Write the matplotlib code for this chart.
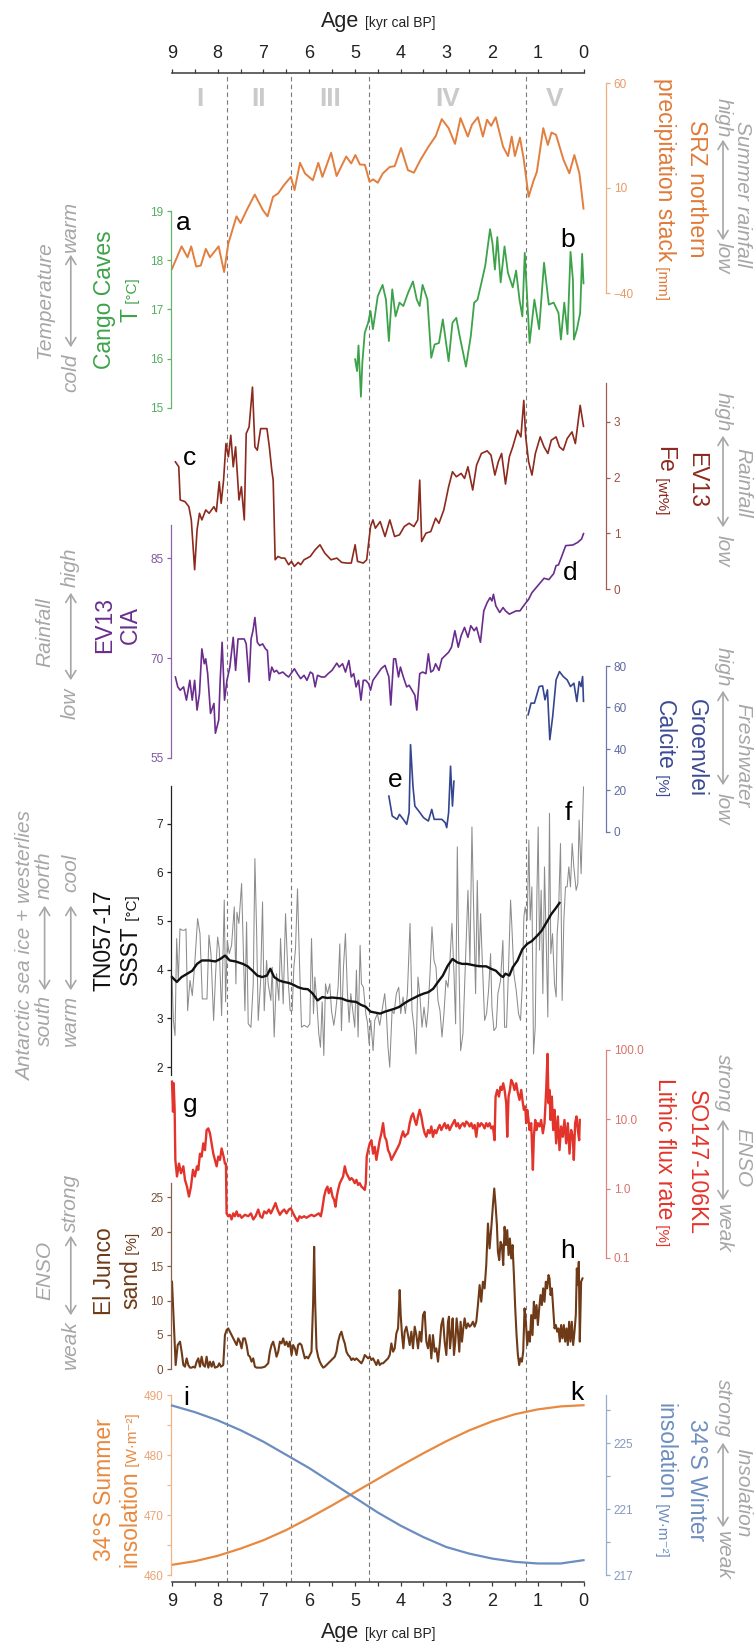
import numpy as np
import matplotlib
matplotlib.use('Agg')
import matplotlib.pyplot as plt
from matplotlib.patches import FancyArrowPatch
from matplotlib.ticker import NullLocator

plt.rcParams['font.family'] = ['Liberation Sans', 'DejaVu Sans']

# ------------------------------------------------------------------ data
srz = [(9.0, -28.5), (8.79, -17.8), (8.66, -23.0), (8.58, -17.8), (8.47, -27.4), (8.37, -26.9),
       (8.26, -19.0), (8.17, -23.0), (7.98, -17.8), (7.86, -30.0), (7.77, -16.6), (7.59, -3.5),
       (7.5, -6.7), (7.36, -0.3), (7.19, 6.9), (7.01, -0.6), (6.91, -3.5), (6.79, 5.8), (6.68, 7.4),
       (6.55, 11.4), (6.4, 15.3), (6.32, 9.0), (6.2, 22.0), (6.09, 16.9), (5.92, 13.7), (5.8, 22.0),
       (5.71, 15.3), (5.52, 26.8), (5.4, 15.7), (5.19, 25.0), (5.08, 21.7), (4.99, 25.7), (4.89, 21.2),
       (4.78, 21.0), (4.68, 13.0), (4.6, 14.1), (4.5, 12.5), (4.39, 16.9), (4.24, 20.0), (4.13, 20.4),
       (3.99, 29.0), (3.84, 18.5), (3.71, 17.3), (3.56, 23.6), (3.39, 29.7), (3.23, 34.8), (3.1, 42.8),
       (2.95, 38.5), (2.81, 31.0), (2.69, 43.3), (2.53, 34.5), (2.44, 40.1), (2.31, 43.7), (2.2, 34.5),
       (2.11, 42.5), (2.02, 39.6), (1.92, 43.7), (1.76, 29.7), (1.65, 25.2), (1.57, 34.5), (1.5, 25.2),
       (1.39, 34.0), (1.31, 24.1), (1.2, 5.8), (1.1, 13.0), (1.02, 17.7), (0.88, 38.5), (0.78, 30.5),
       (0.7, 36.4), (0.6, 35.3), (0.44, 23.6), (0.31, 17.0), (0.2, 25.7), (0.09, 17.0), (0.0, 0.2)]

cango = [(4.995, 15.99), (4.953, 15.75), (4.921, 16.27), (4.868, 15.23), (4.837, 15.92), (4.784, 16.53),
         (4.71, 16.73), (4.658, 16.97), (4.605, 16.6), (4.5, 17.27), (4.394, 17.5), (4.32, 17.2),
         (4.257, 16.36), (4.183, 17.41), (4.11, 16.86), (4.025, 17.14), (3.941, 17.07), (3.836, 17.34),
         (3.73, 17.57), (3.646, 17.2), (3.583, 17.07), (3.52, 17.5), (3.414, 17.2), (3.33, 16.02),
         (3.256, 16.29), (3.161, 16.32), (3.077, 16.8), (2.95, 15.95), (2.866, 16.73), (2.782, 16.83),
         (2.708, 16.46), (2.571, 15.84), (2.465, 16.46), (2.391, 17.14), (2.318, 17.2), (2.233, 17.54),
         (2.149, 17.89), (2.044, 18.63), (1.991, 18.35), (1.938, 17.81), (1.885, 18.47), (1.812, 17.55),
         (1.727, 18.28), (1.654, 17.75), (1.548, 17.45), (1.474, 17.79), (1.40, 17.2), (1.337, 16.86),
         (1.285, 18.15), (1.179, 16.32), (1.074, 17.2), (0.97, 16.6), (0.863, 17.95), (0.758, 17.1),
         (0.652, 17.14), (0.547, 16.93), (0.494, 16.39), (0.42, 17.14), (0.35, 16.5), (0.284, 18.17),
         (0.231, 17.6), (0.21, 16.39), (0.146, 16.59), (0.073, 16.93), (0.03, 18.13), (0.0, 17.53)]

fe = [(8.926, 2.284), (8.852, 2.195), (8.821, 1.599), (8.715, 1.569), (8.631, 1.479), (8.578, 1.241),
      (8.505, 0.347), (8.452, 1.062), (8.399, 1.36), (8.347, 1.241), (8.262, 1.42), (8.188, 1.36),
      (8.083, 1.479), (8.03, 1.39), (7.967, 1.927), (7.925, 1.539), (7.872, 1.956), (7.82, 2.612),
      (7.767, 2.374), (7.714, 2.761), (7.661, 2.195), (7.609, 2.553), (7.535, 1.599), (7.482, 1.837),
      (7.419, 1.241), (7.377, 2.791), (7.314, 2.911), (7.24, 3.626), (7.187, 2.553), (7.134, 2.493),
      (7.061, 2.881), (6.924, 2.881), (6.871, 2.553), (6.818, 2.135), (6.787, 1.956), (6.744, 0.525),
      (6.681, 0.585), (6.607, 0.555), (6.534, 0.555), (6.449, 0.436), (6.386, 0.496), (6.323, 0.406),
      (6.239, 0.478), (6.186, 0.436), (6.112, 0.525), (5.975, 0.585), (5.87, 0.704), (5.764, 0.794),
      (5.659, 0.645), (5.522, 0.525), (5.395, 0.555), (5.29, 0.478), (5.185, 0.466), (5.079, 0.466),
      (4.995, 0.794), (4.942, 0.496), (4.816, 0.466), (4.742, 0.525), (4.658, 1.122), (4.605, 1.241),
      (4.552, 1.092), (4.447, 1.211), (4.341, 0.943), (4.236, 1.241), (4.131, 0.943), (4.025, 0.973),
      (3.92, 1.122), (3.814, 1.181), (3.709, 1.122), (3.625, 1.241), (3.582, 1.956), (3.54, 0.853),
      (3.446, 1.002), (3.34, 1.032), (3.235, 1.271), (3.161, 1.181), (3.055, 1.42), (2.95, 1.837),
      (2.866, 2.106), (2.781, 2.016), (2.676, 2.076), (2.602, 1.986), (2.528, 2.195), (2.423, 1.778),
      (2.339, 2.225), (2.233, 2.434), (2.107, 2.481), (2.023, 2.404), (1.938, 2.046), (1.864, 2.284),
      (1.791, 2.434), (1.706, 1.885), (1.622, 2.374), (1.548, 2.553), (1.443, 2.851), (1.369, 2.732),
      (1.306, 3.388), (1.264, 2.732), (1.2, 2.284), (1.127, 2.046), (1.053, 2.434), (0.947, 2.732),
      (0.863, 2.553), (0.779, 2.434), (0.705, 2.672), (0.6, 2.732), (0.526, 2.553), (0.442, 2.493),
      (0.357, 2.702), (0.252, 2.821), (0.178, 2.612), (0.073, 3.298), (0.0, 2.922)]

cia = [(8.926, 67.17), (8.874, 65.68), (8.821, 65.18), (8.747, 65.68), (8.684, 63.69), (8.61, 66.67),
       (8.557, 63.69), (8.505, 66.67), (8.452, 62.2), (8.399, 64.68), (8.347, 71.39), (8.294, 69.16),
       (8.262, 69.9), (8.22, 67.67), (8.157, 61.7), (8.083, 63.19), (8.051, 58.72), (7.978, 60.71),
       (7.946, 66.67), (7.904, 72.38), (7.851, 63.69), (7.798, 66.67), (7.735, 68.66), (7.661, 73.13),
       (7.609, 68.16), (7.556, 72.88), (7.419, 72.88), (7.377, 72.14), (7.314, 66.42), (7.271, 72.88),
       (7.229, 74.12), (7.187, 76.11), (7.134, 72.38), (7.082, 71.89), (7.018, 72.14), (6.955, 71.39),
       (6.913, 71.14), (6.871, 66.67), (6.818, 68.66), (6.766, 67.91), (6.713, 68.16), (6.66, 67.67),
       (6.576, 67.91), (6.502, 67.42), (6.449, 67.17), (6.397, 67.67), (6.323, 68.41), (6.26, 67.67),
       (6.186, 66.92), (6.112, 67.42), (6.049, 66.67), (5.975, 67.91), (5.922, 67.67), (5.87, 65.68),
       (5.817, 67.42), (5.733, 67.17), (5.659, 67.17), (5.585, 67.67), (5.501, 68.16), (5.395, 69.25),
       (5.343, 68.66), (5.269, 69.16), (5.206, 67.91), (5.132, 69.65), (5.079, 67.17), (5.026, 67.67),
       (4.974, 65.68), (4.921, 66.67), (4.868, 63.69), (4.816, 66.67), (4.763, 66.67), (4.7, 66.17),
       (4.658, 65.18), (4.605, 66.67), (4.552, 67.17), (4.5, 67.67), (4.426, 68.41), (4.341, 68.91),
       (4.257, 67.17), (4.215, 62.95), (4.152, 69.9), (4.11, 69.9), (4.046, 67.17), (4.004, 68.66),
       (3.941, 67.17), (3.867, 65.68), (3.814, 65.93), (3.751, 65.18), (3.688, 64.44), (3.646, 62.2),
       (3.582, 67.67), (3.519, 67.91), (3.446, 67.67), (3.393, 70.65), (3.34, 67.91), (3.287, 68.16),
       (3.235, 69.16), (3.161, 68.16), (3.098, 69.9), (3.024, 70.4), (2.95, 70.89), (2.887, 71.64),
       (2.813, 74.12), (2.739, 71.64), (2.676, 73.38), (2.602, 74.62), (2.528, 73.13), (2.465, 74.87),
       (2.391, 74.12), (2.339, 74.62), (2.254, 72.38), (2.181, 77.1), (2.107, 78.35), (2.044, 79.09),
       (2.002, 78.59), (1.97, 79.59), (1.917, 77.85), (1.833, 76.86), (1.759, 77.6), (1.706, 77.1),
       (1.622, 76.61), (1.548, 76.86), (1.474, 77.1), (1.39, 77.1), (1.285, 78.1), (1.2, 78.84),
       (1.127, 79.84), (1.021, 80.7), (0.863, 82.0), (0.758, 81.8), (0.652, 82.7), (0.6, 83.9),
       (0.547, 84.0), (0.389, 86.9), (0.231, 87.0), (0.125, 87.4), (0.042, 87.9), (0.0, 88.7)]

groen_young = [(1.211, 56.5), (1.148, 62.1), (1.074, 62.1), (1.021, 66.1), (0.969, 70.1), (0.895, 70.4),
               (0.842, 63.7), (0.789, 68.5), (0.737, 44.5), (0.674, 55.7), (0.6, 73.3), (0.526, 77.3),
               (0.442, 74.9), (0.357, 73.3), (0.284, 70.1), (0.21, 71.7), (0.146, 62.9), (0.094, 72.5),
               (0.052, 70.1), (0.02, 74.9), (0.0, 63.0)]
groen_old = [(4.257, 17.3), (4.183, 7.7), (4.131, 6.9), (4.078, 6.1), (4.025, 8.5), (3.941, 6.1),
             (3.867, 3.7), (3.814, 9.3), (3.783, 42.1), (3.73, 22.1), (3.688, 12.5), (3.604, 10.1),
             (3.498, 6.9), (3.393, 5.3), (3.319, 10.9), (3.266, 6.1), (3.182, 6.1), (3.098, 6.1),
             (3.024, 4.5), (2.992, 2.1), (2.95, 9.3), (2.908, 31.7), (2.866, 12.5), (2.834, 24.5)]

ssst = [(9.0, 3.85), (8.97, 2.96), (8.934, 2.65), (8.898, 4.64), (8.862, 3.78), (8.825, 4.84),
        (8.774, 4.81), (8.731, 4.81), (8.694, 4.84), (8.658, 3.16), (8.607, 3.78), (8.556, 3.47),
        (8.498, 4.19), (8.44, 5.05), (8.388, 4.74), (8.337, 3.40), (8.279, 3.40), (8.235, 3.40),
        (8.192, 4.71), (8.148, 4.33), (8.09, 2.96), (8.046, 3.92), (8.002, 4.67), (7.966, 4.43),
        (7.915, 3.06), (7.857, 5.43), (7.828, 3.34), (7.791, 4.60), (7.748, 4.33), (7.697, 4.50),
        (7.638, 5.29), (7.602, 3.71), (7.58, 5.18), (7.537, 4.95), (7.478, 5.77), (7.442, 4.47),
        (7.405, 3.16), (7.369, 4.98), (7.333, 2.89), (7.274, 2.82), (7.223, 3.71), (7.187, 6.28),
        (7.15, 4.81), (7.114, 2.96), (7.063, 3.75), (7.02, 5.39), (6.983, 3.16), (6.932, 4.19),
        (6.896, 3.71), (6.838, 3.37), (6.808, 4.05), (6.765, 2.62), (6.714, 3.92), (6.663, 3.37),
        (6.626, 4.64), (6.568, 3.30), (6.517, 5.15), (6.459, 3.78), (6.415, 3.16), (6.372, 3.16),
        (6.335, 4.05), (6.299, 4.43), (6.255, 5.66), (6.211, 4.12), (6.168, 2.82), (6.109, 2.86),
        (6.037, 2.82), (5.986, 2.89), (5.949, 4.64), (5.905, 3.10), (5.876, 3.85), (5.84, 3.44),
        (5.789, 2.68), (5.753, 2.41), (5.716, 3.34), (5.68, 2.24), (5.643, 3.71), (5.6, 3.51),
        (5.549, 3.71), (5.512, 3.16), (5.461, 2.86), (5.425, 3.10), (5.367, 3.64), (5.33, 4.53),
        (5.294, 2.75), (5.25, 4.05), (5.207, 4.74), (5.163, 3.51), (5.126, 2.92), (5.09, 3.51),
        (5.046, 3.16), (5.003, 2.82), (4.966, 3.99), (4.93, 2.62), (4.886, 4.50), (4.857, 3.71),
        (4.813, 3.64), (4.762, 3.10), (4.726, 2.92), (4.69, 2.48), (4.653, 2.96), (4.602, 2.34),
        (4.566, 2.96), (4.508, 3.10), (4.457, 2.86), (4.406, 3.16), (4.348, 3.51), (4.311, 3.10),
        (4.275, 2.41), (4.238, 2.00), (4.187, 3.16), (4.144, 3.10), (4.093, 3.51), (4.042, 3.64),
        (3.998, 3.10), (3.947, 3.44), (3.896, 3.10), (3.852, 3.51), (3.794, 4.95), (3.751, 3.16),
        (3.707, 2.82), (3.663, 2.27), (3.62, 3.85), (3.576, 3.44), (3.532, 2.82), (3.488, 3.23),
        (3.437, 2.82), (3.401, 3.16), (3.357, 3.92), (3.314, 4.88), (3.27, 4.19), (3.226, 4.05),
        (3.183, 3.37), (3.139, 3.16), (3.095, 2.62), (3.052, 3.10), (3.008, 3.78), (2.964, 3.64),
        (2.921, 4.19), (2.877, 4.95), (2.833, 3.92), (2.797, 2.89), (2.76, 6.52), (2.731, 4.47),
        (2.688, 2.34), (2.637, 2.68), (2.586, 4.05), (2.527, 5.63), (2.484, 4.12), (2.44, 6.93),
        (2.396, 4.95), (2.36, 3.51), (2.323, 5.83), (2.287, 4.05), (2.251, 5.15), (2.214, 4.19),
        (2.163, 2.96), (2.12, 3.10), (2.076, 3.58), (2.032, 4.33), (2.003, 3.23), (1.959, 2.75),
        (1.908, 2.82), (1.872, 3.51), (1.814, 3.78), (1.763, 4.60), (1.726, 2.82), (1.683, 2.82),
        (1.639, 4.05), (1.595, 5.43), (1.566, 4.88), (1.523, 3.92), (1.472, 3.58), (1.421, 3.10),
        (1.377, 2.96), (1.341, 3.64), (1.304, 5.08), (1.275, 5.29), (1.231, 5.02), (1.195, 6.66),
        (1.166, 5.02), (1.129, 5.70), (1.093, 2.27), (1.056, 2.82), (1.02, 5.49), (0.991, 6.93),
        (0.962, 4.40), (0.926, 5.63), (0.889, 3.51), (0.853, 6.11), (0.816, 4.60), (0.78, 3.03),
        (0.744, 7.21), (0.715, 4.33), (0.678, 4.74), (0.634, 3.71), (0.598, 3.44), (0.576, 4.74),
        (0.547, 5.15), (0.503, 6.59), (0.467, 3.37), (0.43, 5.02), (0.394, 5.70), (0.358, 5.70),
        (0.321, 6.11), (0.285, 5.70), (0.248, 6.59), (0.212, 6.11), (0.161, 5.63), (0.125, 5.77),
        (0.096, 7.07), (0.052, 5.97), (0.0, 7.75)]

ssst_smooth = [(9.0, 3.85), (8.895, 3.75), (8.789, 3.85), (8.663, 3.92), (8.557, 3.98), (8.452, 4.12),
               (8.347, 4.19), (8.188, 4.19), (8.051, 4.17), (7.946, 4.22), (7.841, 4.29), (7.735, 4.19),
               (7.609, 4.17), (7.451, 4.12), (7.345, 4.07), (7.24, 3.98), (7.134, 3.88), (7.029, 3.85),
               (6.924, 3.88), (6.85, 4.02), (6.766, 3.85), (6.66, 3.78), (6.555, 3.75), (6.449, 3.73),
               (6.344, 3.69), (6.239, 3.64), (6.133, 3.61), (6.028, 3.60), (5.922, 3.51), (5.817, 3.37),
               (5.711, 3.44), (5.606, 3.42), (5.501, 3.43), (5.395, 3.42), (5.29, 3.41), (5.185, 3.37),
               (5.079, 3.35), (4.974, 3.34), (4.868, 3.28), (4.763, 3.24), (4.658, 3.14), (4.552, 3.12),
               (4.447, 3.10), (4.341, 3.14), (4.236, 3.17), (4.131, 3.20), (4.025, 3.24), (3.92, 3.31),
               (3.814, 3.37), (3.709, 3.42), (3.604, 3.47), (3.498, 3.51), (3.393, 3.54), (3.287, 3.61),
               (3.182, 3.75), (3.077, 3.88), (2.971, 4.08), (2.866, 4.22), (2.76, 4.15), (2.655, 4.12),
               (2.55, 4.12), (2.444, 4.10), (2.339, 4.08), (2.233, 4.07), (2.128, 4.07), (2.023, 4.02),
               (1.917, 3.98), (1.812, 3.88), (1.759, 3.85), (1.706, 3.92), (1.622, 3.88), (1.548, 4.05),
               (1.443, 4.19), (1.337, 4.42), (1.232, 4.53), (1.127, 4.59), (1.021, 4.69), (0.916, 4.80),
               (0.81, 4.97), (0.705, 5.14), (0.6, 5.27), (0.526, 5.37)]

lithic = [(9.0, 35.0), (8.978, 12.9), (8.963, 33.1), (8.942, 13.7), (8.927, 2.6), (8.891, 1.50),
          (8.847, 2.3), (8.803, 1.67), (8.752, 2.1), (8.716, 1.34), (8.672, 1.07), (8.629, 0.77),
          (8.585, 1.07), (8.541, 1.87), (8.498, 1.50), (8.454, 2.1), (8.425, 1.87), (8.388, 3.2),
          (8.352, 2.9), (8.316, 4.5), (8.279, 3.6), (8.243, 7.0), (8.206, 7.4), (8.17, 6.3),
          (8.133, 4.5), (8.097, 3.2), (8.061, 2.6), (8.024, 2.1), (7.988, 2.9), (7.951, 2.6),
          (7.915, 3.8), (7.871, 2.9), (7.842, 2.3), (7.82, 2.3), (7.806, 0.44), (7.77, 0.40),
          (7.733, 0.42), (7.697, 0.36), (7.66, 0.44), (7.624, 0.40), (7.587, 0.47), (7.551, 0.40),
          (7.515, 0.42), (7.478, 0.38), (7.405, 0.42), (7.333, 0.40), (7.274, 0.44), (7.223, 0.36),
          (7.172, 0.40), (7.114, 0.50), (7.07, 0.40), (7.027, 0.38), (6.983, 0.47), (6.932, 0.44),
          (6.881, 0.50), (6.838, 0.44), (6.786, 0.52), (6.736, 0.62), (6.692, 0.50), (6.641, 0.42),
          (6.59, 0.47), (6.546, 0.50), (6.495, 0.44), (6.444, 0.50), (6.401, 0.52), (6.35, 0.44),
          (6.299, 0.38), (6.255, 0.34), (6.211, 0.40), (6.168, 0.38), (6.109, 0.40), (6.058, 0.38),
          (6.007, 0.40), (5.949, 0.42), (5.891, 0.40), (5.84, 0.42), (5.789, 0.44), (5.745, 0.40),
          (5.716, 0.50), (5.673, 0.77), (5.636, 0.96), (5.6, 1.07), (5.571, 0.86), (5.527, 1.02),
          (5.49, 0.77), (5.454, 0.69), (5.425, 0.55), (5.396, 0.77), (5.367, 0.96), (5.33, 1.20),
          (5.294, 1.34), (5.258, 1.50), (5.221, 2.1), (5.185, 1.67), (5.148, 1.50), (5.112, 1.34),
          (5.076, 1.42), (5.039, 1.34), (5.003, 1.20), (4.966, 1.34), (4.93, 1.13), (4.894, 1.20),
          (4.857, 1.07), (4.821, 1.02), (4.784, 0.96), (4.762, 1.20), (4.741, 2.9), (4.711, 3.6),
          (4.675, 4.5), (4.639, 5.0), (4.602, 3.2), (4.566, 4.0), (4.53, 2.6), (4.493, 3.6),
          (4.457, 5.0), (4.42, 6.3), (4.384, 8.8), (4.347, 5.6), (4.311, 5.0), (4.275, 3.6),
          (4.238, 3.2), (4.202, 2.6), (4.165, 2.9), (4.129, 3.2), (4.093, 3.6), (4.056, 4.0),
          (4.02, 4.5), (3.983, 5.6), (3.947, 6.7), (3.911, 5.6), (3.874, 6.0), (3.838, 6.3),
          (3.801, 8.8), (3.765, 11.0), (3.729, 12.2), (3.692, 9.8), (3.656, 8.3), (3.619, 11.0),
          (3.583, 13.7), (3.547, 11.0), (3.51, 7.9), (3.474, 6.3), (3.437, 5.6), (3.401, 7.0),
          (3.364, 6.3), (3.328, 7.9), (3.292, 5.6), (3.255, 7.0), (3.219, 6.3), (3.182, 7.4),
          (3.146, 8.3), (3.11, 7.0), (3.073, 7.9), (3.037, 8.8), (3.0, 7.4), (2.964, 8.3),
          (2.928, 7.0), (2.891, 7.9), (2.855, 8.8), (2.818, 9.8), (2.782, 7.9), (2.746, 8.8),
          (2.709, 7.4), (2.673, 8.3), (2.636, 8.8), (2.6, 7.9), (2.564, 9.3), (2.527, 8.8),
          (2.491, 7.9), (2.454, 8.8), (2.418, 7.4), (2.382, 8.3), (2.345, 5.6), (2.309, 8.8),
          (2.272, 7.9), (2.236, 8.8), (2.2, 8.3), (2.163, 7.4), (2.127, 8.8), (2.09, 7.9),
          (2.054, 8.8), (2.018, 7.4), (1.981, 7.9), (1.945, 5.0), (1.923, 21.3), (1.887, 26.5),
          (1.85, 21.3), (1.814, 29.6), (1.785, 26.5), (1.756, 33.1), (1.726, 26.5), (1.69, 17.1),
          (1.668, 5.6), (1.639, 21.3), (1.61, 26.5), (1.581, 37.0), (1.544, 33.1), (1.508, 26.5),
          (1.472, 33.1), (1.435, 23.8), (1.399, 19.1), (1.362, 26.5), (1.326, 17.1), (1.304, 13.7),
          (1.275, 15.3), (1.253, 8.8), (1.231, 13.7), (1.202, 9.8), (1.18, 7.0), (1.144, 8.8),
          (1.107, 1.87), (1.086, 5.6), (1.056, 9.8), (1.027, 7.0), (0.998, 8.8), (0.962, 7.9),
          (0.926, 9.8), (0.889, 6.3), (0.853, 8.8), (0.816, 26.5), (0.787, 88.0), (0.765, 17.1),
          (0.743, 26.5), (0.721, 9.8), (0.692, 21.3), (0.663, 7.0), (0.634, 13.7), (0.598, 4.5),
          (0.561, 11.0), (0.525, 3.6), (0.489, 7.9), (0.452, 5.6), (0.416, 9.8), (0.379, 4.5),
          (0.343, 8.8), (0.306, 3.2), (0.27, 7.0), (0.234, 5.6), (0.212, 2.6), (0.183, 8.8),
          (0.154, 11.0), (0.124, 7.0), (0.095, 5.0), (0.081, 9.8)]

junco = [(9.0, 12.74), (8.949, 4.98), (8.92, 0.62), (8.876, 3.53), (8.825, 4.02), (8.789, 2.56),
         (8.752, 0.62), (8.716, 0.38), (8.68, 1.59), (8.643, 0.62), (8.607, 0.24), (8.57, 0.24),
         (8.534, 0.38), (8.498, 0.24), (8.461, 1.11), (8.425, 1.59), (8.388, 0.38), (8.352, 1.83),
         (8.316, 0.62), (8.279, 0.38), (8.243, 1.83), (8.206, 0.24), (8.17, 1.11), (8.133, 0.38),
         (8.097, 1.11), (8.061, 0.24), (8.002, 0.38), (7.966, 0.87), (7.93, 0.38), (7.879, 0.62),
         (7.842, 4.98), (7.806, 5.71), (7.77, 5.95), (7.733, 5.47), (7.697, 4.98), (7.66, 4.5),
         (7.624, 4.02), (7.587, 3.53), (7.551, 4.5), (7.515, 4.02), (7.478, 3.05), (7.442, 4.5),
         (7.405, 4.5), (7.369, 3.53), (7.333, 2.08), (7.296, 1.83), (7.26, 1.11), (7.223, 1.59),
         (7.187, 0.38), (7.15, 0.24), (7.114, 0.24), (7.041, 0.24), (6.969, 0.38), (6.896, 0.87),
         (6.859, 2.56), (6.823, 3.53), (6.787, 4.02), (6.75, 3.05), (6.714, 1.83), (6.677, 2.56),
         (6.641, 4.02), (6.604, 3.77), (6.568, 4.5), (6.532, 3.53), (6.495, 4.02), (6.459, 3.29),
         (6.423, 4.02), (6.386, 2.08), (6.35, 3.53), (6.313, 3.05), (6.277, 2.08), (6.241, 3.53),
         (6.204, 3.77), (6.168, 3.53), (6.131, 2.56), (6.095, 1.59), (6.058, 1.83), (6.022, 1.59),
         (5.986, 2.08), (5.949, 2.56), (5.913, 9.83), (5.891, 17.82), (5.869, 9.83), (5.84, 3.05),
         (5.804, 1.83), (5.767, 1.11), (5.731, 0.62), (5.694, 0.24), (5.658, 0.38), (5.622, 0.62),
         (5.585, 0.87), (5.549, 1.11), (5.512, 1.35), (5.476, 1.59), (5.44, 1.83), (5.403, 2.56),
         (5.367, 4.02), (5.33, 4.98), (5.294, 5.47), (5.258, 4.5), (5.221, 3.77), (5.185, 2.56),
         (5.148, 2.08), (5.112, 1.83), (5.076, 1.35), (5.039, 1.59), (5.003, 1.35), (4.966, 1.59),
         (4.93, 1.35), (4.894, 1.11), (4.857, 0.87), (4.821, 1.35), (4.784, 2.08), (4.748, 1.83),
         (4.711, 1.59), (4.675, 1.83), (4.639, 1.35), (4.602, 1.59), (4.566, 1.11), (4.53, 0.62),
         (4.493, 1.35), (4.457, 0.62), (4.42, 0.87), (4.384, 0.87), (4.347, 1.11), (4.311, 1.35),
         (4.275, 1.59), (4.238, 2.08), (4.202, 3.77), (4.165, 2.56), (4.129, 3.05), (4.093, 5.23),
         (4.056, 5.95), (4.02, 11.53), (3.998, 7.89), (3.969, 4.98), (3.94, 3.05), (3.911, 5.47),
         (3.874, 6.2), (3.838, 4.98), (3.801, 3.53), (3.765, 5.47), (3.729, 3.05), (3.692, 6.2),
         (3.656, 4.98), (3.619, 3.05), (3.583, 5.47), (3.547, 4.02), (3.51, 7.89), (3.474, 8.38),
         (3.437, 4.02), (3.401, 3.05), (3.364, 4.98), (3.328, 1.59), (3.292, 4.98), (3.255, 2.56),
         (3.219, 3.05), (3.182, 1.11), (3.146, 3.53), (3.11, 6.44), (3.073, 7.41), (3.037, 4.02),
         (3.0, 2.08), (2.964, 6.92), (2.942, 7.65), (2.92, 3.05), (2.891, 4.98), (2.862, 7.41),
         (2.833, 2.08), (2.804, 4.02), (2.775, 7.41), (2.746, 5.47), (2.717, 2.56), (2.688, 6.92),
         (2.658, 4.02), (2.629, 5.95), (2.6, 7.41), (2.564, 5.95), (2.527, 6.68), (2.491, 6.2),
         (2.454, 6.44), (2.418, 6.92), (2.382, 6.2), (2.345, 6.92), (2.309, 9.34), (2.272, 12.25),
         (2.236, 9.83), (2.2, 12.74), (2.163, 11.77), (2.127, 15.16), (2.09, 21.21), (2.054, 17.58),
         (2.018, 20.49), (1.981, 23.88), (1.952, 26.3), (1.923, 23.88), (1.894, 20.97), (1.872, 17.1),
         (1.843, 15.88), (1.814, 18.55), (1.785, 18.07), (1.756, 15.16), (1.726, 20.73), (1.697, 18.07),
         (1.668, 20.25), (1.639, 16.61), (1.61, 19.03), (1.581, 16.13), (1.552, 18.07), (1.522, 13.71),
         (1.493, 8.86), (1.464, 4.98), (1.435, 2.08), (1.406, 0.62), (1.377, 1.59), (1.348, 1.11),
         (1.319, 2.56), (1.289, 8.86), (1.26, 6.92), (1.231, 3.53), (1.202, 5.47), (1.173, 4.02),
         (1.144, 7.89), (1.115, 4.98), (1.086, 9.83), (1.056, 7.41), (1.027, 9.34), (0.998, 6.44),
         (0.969, 8.86), (0.94, 10.8), (0.911, 9.34), (0.882, 11.77), (0.853, 9.83), (0.824, 12.74),
         (0.795, 11.77), (0.765, 13.71), (0.743, 13.22), (0.721, 10.8), (0.692, 11.77), (0.663, 8.86),
         (0.634, 5.95), (0.605, 6.44), (0.576, 5.47), (0.547, 5.95), (0.518, 4.02), (0.489, 6.44),
         (0.46, 4.5), (0.43, 6.44), (0.401, 4.02), (0.372, 5.95), (0.343, 3.53), (0.314, 6.92),
         (0.285, 4.02), (0.256, 6.92), (0.226, 3.53), (0.197, 5.47), (0.168, 7.89), (0.146, 14.67),
         (0.124, 12.25), (0.103, 15.64), (0.081, 4.02), (0.052, 12.74), (0.022, 13.22)]

insol_age = [9.0, 8.5, 8.0, 7.5, 7.0, 6.5, 6.0, 5.5, 5.0, 4.5, 4.0, 3.5, 3.0, 2.5, 2.0, 1.5, 1.0, 0.5, 0.0]
summer_insol = [461.7, 462.3, 463.2, 464.4, 465.8, 467.5, 469.5, 471.6, 473.8, 476.0, 478.2, 480.3,
                482.3, 484.1, 485.6, 486.8, 487.6, 488.1, 488.3]
winter_insol = [227.3, 226.9, 226.4, 225.8, 225.1, 224.3, 223.5, 222.6, 221.7, 220.8, 220.0, 219.3,
                218.7, 218.3, 218.0, 217.8, 217.7, 217.7, 217.9]

boundaries = [7.8, 6.4, 4.7, 1.25]
stage_labels = ['I', 'II', 'III', 'IV', 'V']
age_ticks = list(range(10))

# ------------------------------------------------------------------ layout
W, H = 755, 1642
X0, X1 = 172.0, 583.5
fig = plt.figure(figsize=(W / 100, H / 100), dpi=100)
SANS = ['Liberation Sans', 'DejaVu Sans']
GREY = '#A6A6A6'


def fx(x):
    return x / W


def fy(y):
    return 1 - y / H


def age_x(a):
    return X0 + (9 - a) / 9 * (X1 - X0)


# background axes: age axes top & bottom + dashed boundaries
bg = fig.add_axes([fx(X0), fy(1582), (X1 - X0) / W, (1582 - 73) / H])
bg.set_xlim(9, 0)
bg.set_ylim(0, 1)
bg.patch.set_visible(False)
for s in ['left', 'right']:
    bg.spines[s].set_visible(False)
for s in ['top', 'bottom']:
    bg.spines[s].set_color('#3a3a3a')
    bg.spines[s].set_linewidth(1.1)
bg.set_yticks([])
bg.set_xticks(age_ticks)
bg.set_xticks(np.arange(0.5, 9, 1), minor=True)
bg.tick_params(axis='x', which='both', direction='out', length=3.2, width=0.9, color='#3a3a3a',
               top=True, bottom=True, labeltop=True, labelbottom=True, labelsize=13, pad=5,
               labelcolor='#222222')
for a in boundaries:
    bg.axvline(a, color='#7a7a7a', lw=0.8, ls=(0, (4, 3)), zorder=0)

fig.text(fx(359), fy(27.5), 'Age', fontsize=15.5, ha='right', va='baseline', color='#222222')
fig.text(fx(365), fy(27.5), '[kyr cal BP]', fontsize=10, ha='left', va='baseline', color='#222222')
fig.text(fx(359), fy(1638), 'Age', fontsize=15.5, ha='right', va='baseline', color='#222222')
fig.text(fx(365), fy(1638), '[kyr cal BP]', fontsize=10, ha='left', va='baseline', color='#222222')

edges = [9.0] + boundaries + [0.0]
for i, lab in enumerate(stage_labels):
    mid = (edges[i] + edges[i + 1]) / 2
    fig.text(fx(age_x(mid)), fy(106), lab, fontsize=19, fontweight='bold', ha='center',
             va='baseline', color='#CACACA')


def panel(y_top, y_bot, ylim, side, scol, tcol, ticks, labels=None, minor=None, log=False):
    ax = fig.add_axes([fx(X0), fy(y_bot), (X1 - X0) / W, (y_bot - y_top) / H])
    ax.set_xlim(9, 0)
    ax.patch.set_visible(False)
    for s in ['top', 'bottom', 'left', 'right']:
        ax.spines[s].set_visible(False)
    ax.set_xticks([])
    if log:
        ax.set_yscale('log')
    ax.set_ylim(*ylim)
    sp = ax.spines[side]
    sp.set_visible(True)
    sp.set_color(scol)
    sp.set_linewidth(0.9)
    if side == 'right':
        sp.set_position(('outward', (606 - X1) * 0.72))
        ax.yaxis.set_ticks_position('right')
    else:
        sp.set_position(('outward', 0.7))
        ax.yaxis.set_ticks_position('left')
    ax.set_yticks(ticks)
    if labels is not None:
        ax.set_yticklabels(labels)
    if minor is not None:
        ax.set_yticks(minor, minor=True)
    else:
        ax.yaxis.set_minor_locator(NullLocator())
    ax.tick_params(axis='y', which='both', color=scol, labelcolor=tcol, length=3.0, width=0.9,
                   pad=2.5, labelsize=8.5)
    return ax


def plot_xy(ax, pairs, **kw):
    a, v = zip(*pairs)
    ax.plot(a, v, clip_on=False, solid_joinstyle='round', **kw)


# a: SRZ
ax = panel(83, 293, (-40, 60), 'right', '#EDAE80', '#E89B66', [60, 10, -40])
plot_xy(ax, srz, color='#E27F3E', lw=1.4)
# b: Cango
ax = panel(211, 408, (15, 19), 'left', '#64B56E', '#55AD60', [15, 16, 17, 18, 19])
plot_xy(ax, cango, color='#3DA34A', lw=1.3)
# c: Fe
ax = panel(383, 589, (0, 3.7), 'right', '#A45B52', '#9A4E44', [0, 1, 2, 3])
plot_xy(ax, fe, color='#8C2A1E', lw=1.2)
# d: CIA
ax = panel(525, 758, (55, 90), 'left', '#8A63A8', '#7E57A0', [55, 70, 85])
plot_xy(ax, cia, color='#6A2D8E', lw=1.2)
# e: Groenvlei
ax = panel(666, 832, (0, 80), 'right', '#6C78AC', '#5E6BA4', [0, 20, 40, 60, 80])
plot_xy(ax, groen_young, color='#34468F', lw=1.2)
plot_xy(ax, groen_old, color='#34468F', lw=1.2)
# f: SSST
ax = panel(786, 1075, (1.84, 7.77), 'left', '#222222', '#222222', [2, 3, 4, 5, 6, 7])
plot_xy(ax, ssst, color='#8C8C8C', lw=0.75)
plot_xy(ax, ssst_smooth, color='#111111', lw=1.7)
# g: Lithic flux
ax = panel(1050, 1258, (0.1, 100), 'right', '#DD8580', '#D9736C', [0.1, 1, 10, 100],
           labels=['0.1', '1.0', '10.0', '100.0'], log=True)
plot_xy(ax, lithic, color='#E3342B', lw=1.7)
# h: El Junco
ax = panel(1183, 1369.3, (0, 27.1), 'left', '#8A6048', '#7A5038', [0, 5, 10, 15, 20, 25])
plot_xy(ax, junco, color='#6E3A17', lw=1.5)
# i/k: insolation
ax = panel(1395, 1575, (460, 490), 'left', '#EFB488', '#EBA474', [460, 470, 480, 490],
           minor=[465, 475, 485])
ax.plot(insol_age, summer_insol, color='#E8893F', lw=1.6, clip_on=False)
ax = panel(1395, 1575, (217, 227.94), 'right', '#97ABCB', '#8399BF', [217, 221, 225],
           minor=[219, 223, 227])
ax.plot(insol_age, winter_insol, color='#6B8DBF', lw=1.6, clip_on=False)

# panel letters
letters = [('a', 183, 230), ('b', 568, 247), ('c', 190, 465), ('d', 570, 580), ('e', 395, 787),
           ('f', 568, 820), ('g', 190, 1112), ('h', 568, 1258), ('i', 186, 1405), ('k', 577, 1400)]
for s, x, y in letters:
    fig.text(fx(x), fy(y), s, fontsize=19, ha='center', va='baseline', color='black',
             family=['Liberation Sans Narrow', 'Liberation Sans', 'DejaVu Sans'])

# ------------------------------------------------------------------ rotated labels
renderer = fig.canvas.get_renderer()


def rot_label(xb, yc, pieces, rot, color, style='normal'):
    objs, lens = [], []
    for s, size in pieces:
        t = fig.text(0, 0, s, fontsize=size, rotation=rot, rotation_mode='anchor', ha='left',
                     va='baseline', color=color, style=style, family=SANS)
        bb = t.get_window_extent(renderer=renderer)
        objs.append(t)
        lens.append(bb.height)
    total = sum(lens)
    Yc = H - yc
    cum = 0
    for t, L in zip(objs, lens):
        if rot == 90:
            Y = Yc - total / 2 + cum
        else:
            Y = Yc + total / 2 - cum
        t.set_position((xb / W, Y / H))
        cum += L


BIG, SMALL = 16.5, 11
left_labels = [
    (300, '#3DA34A', [('Cango Caves', BIG)], [('T', BIG), (' [°C]', SMALL)]),
    (625, '#6A2D8E', [('EV13', BIG)], [('CIA', BIG)]),
    (940, '#111111', [('TN057-17', BIG)], [('SSST', BIG), (' [°C]', SMALL)]),
    (1271, '#6E3A17', [('El Junco', BIG)], [('sand', BIG), (' [%]', SMALL)]),
    (1490, '#E8893F', [('34°S Summer', BIG)], [('insolation', BIG), (' [W·m⁻²]', SMALL)]),
]
for yc, col, l1, l2 in left_labels:
    rot_label(111, yc, l1, 90, col)
    rot_label(137, yc, l2, 90, col)

right_labels = [
    (189, '#E07B39', [('SRZ northern', BIG)], [('precipitation stack', BIG), (' [mm]', SMALL)]),
    (480, '#8C2A1E', [('EV13', BIG)], [('Fe', BIG), (' [wt%]', SMALL)]),
    (748, '#3B4A94', [('Groenvlei', BIG)], [('Calcite', BIG), (' [%]', SMALL)]),
    (1162, '#E3342B', [('SO147-106KL', BIG)], [('Lithic flux rate', BIG), (' [%]', SMALL)]),
    (1480, '#6E8EBE', [('34°S Winter', BIG)], [('insolation', BIG), (' [W·m⁻²]', SMALL)]),
]
for yc, col, l1, l2 in right_labels:
    rot_label(690, yc, l1, -90, col)
    rot_label(658, yc, l2, -90, col)

# grey interpretation labels
GS = 15
left_titles = [(50, 300, 'Temperature'), (50, 632, 'Rainfall'), (31.5, 946, 'Antarctic sea ice + westerlies'),
               (50, 1270, 'ENSO')]
for xb, yc, s in left_titles:
    rot_label(xb, yc, [(s, GS)], 90, GREY, style='italic')
right_titles = [(737, 194, 'Summer rainfall'), (737, 483, 'Rainfall'), (737, 755, 'Freshwater'),
                (737, 1158, 'ENSO'), (737, 1493, 'Insolation')]
for xb, yc, s in right_titles:
    rot_label(xb, yc, [(s, GS)], -90, GREY, style='italic')


def arrow(x, y1, y2):
    p = FancyArrowPatch((fx(x), fy(y1)), (fx(x), fy(y2)), transform=fig.transFigure,
                        arrowstyle='<->,head_length=0.45,head_width=0.28', mutation_scale=13,
                        color=GREY, lw=1.2)
    fig.add_artist(p)


left_rows = [(76, 70.8, 'cold', 373, 'warm', 226, 350, 252),
             (76, 70.8, 'low', 703, 'high', 567, 683, 590),
             (50, 44.6, 'south', 1020, 'north', 875, 993, 903),
             (76, 70.8, 'warm', 1020, 'cool', 873, 993, 903),
             (76, 70.8, 'weak', 1345, 'strong', 1203, 1318, 1233)]
for xb, xa, w1, y1, w2, y2, a1, a2 in left_rows:
    rot_label(xb, y1, [(w1, GS)], 90, GREY, style='italic')
    rot_label(xb, y2, [(w2, GS)], 90, GREY, style='italic')
    arrow(xa, a1, a2)

right_rows = [(717.6, 723, 'high', 118, 'low', 258, 137, 243),
              (717.6, 723, 'high', 412, 'low', 551, 433, 530),
              (717.6, 723, 'high', 667, 'low', 809, 688, 788),
              (717.6, 723, 'strong', 1083, 'weak', 1228, 1117, 1203),
              (717.6, 723, 'strong', 1408, 'weak', 1555, 1440, 1530)]
for xb, xa, w1, y1, w2, y2, a1, a2 in right_rows:
    rot_label(xb, y1, [(w1, GS)], -90, GREY, style='italic')
    rot_label(xb, y2, [(w2, GS)], -90, GREY, style='italic')
    arrow(xa, a1, a2)

fig.savefig('out.png', dpi=100)
